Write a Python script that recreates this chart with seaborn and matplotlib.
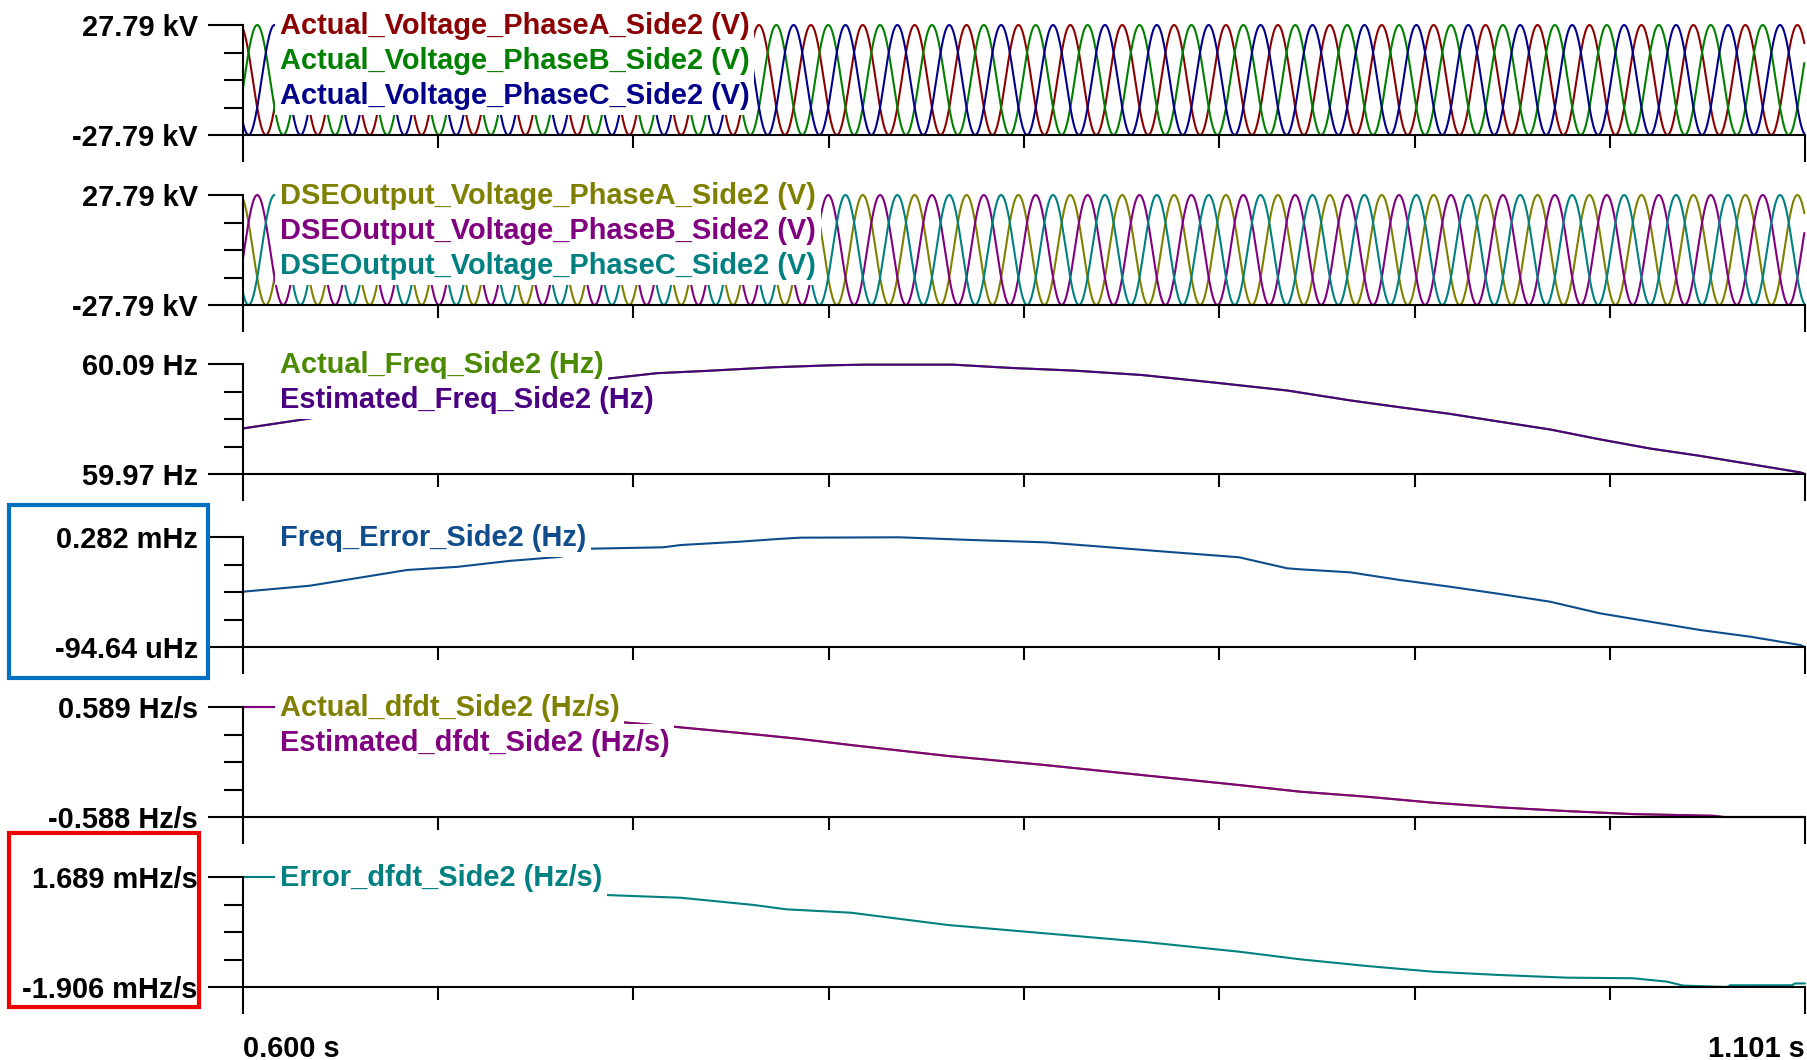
import numpy as np
import matplotlib
matplotlib.use('Agg')
import matplotlib.pyplot as plt
from matplotlib.patches import Rectangle
import seaborn as sns

sns.set_style('white', rc={'axes.edgecolor': 'black', 'xtick.color': 'black',
                           'ytick.color': 'black', 'text.color': 'black'})
plt.rcParams['font.family'] = ['Liberation Sans', 'DejaVu Sans']
plt.rcParams['font.weight'] = 'bold'
plt.rcParams['font.size'] = 20.9

# time window (s)
t_start = 0.600
t_end = 1.101
x_tick_labels = ['0.600 s', '1.101 s']

# voltage panels: peak (kV) and time of first phase-A peak
v_peak_kv = 27.79
actual_peak_t = 0.599
dse_peak_t = 0.599

freq_t = [0.600, 0.6234, 0.650, 0.682, 0.7164, 0.7328, 0.7482, 0.7700, 0.7886,
          0.7995, 0.8277, 0.8463, 0.8665, 0.8883, 0.9114, 0.9349, 0.9551, 0.9711,
          0.9871, 1.0032, 1.0192, 1.0352, 1.0513, 1.0673, 1.0834, 1.0994, 1.101]
freq_hz = [60.0197, 60.0316, 60.0487, 60.0631, 60.0738, 60.0800, 60.0824, 60.0864, 60.0886,
           60.0893, 60.0893, 60.0857, 60.0828, 60.0780, 60.0698, 60.0611, 60.0503, 60.0428,
           60.0356, 60.0270, 60.0186, 60.0078, 59.9978, 59.9898, 59.9808, 59.9718, 59.9700]

# frequency error (mHz)
ferr_t = [0.600, 0.6215, 0.6362, 0.6526, 0.6690, 0.6853, 0.7017, 0.7116, 0.7347, 0.7405,
          0.7594, 0.7716, 0.7787, 0.8104, 0.8338, 0.8572, 0.8726, 0.8960, 0.9195, 0.9349,
          0.9390, 0.9551, 0.9711, 0.9871, 1.0032, 1.0192, 1.0352, 1.0513, 1.0673, 1.0834,
          1.0994, 1.101]
ferr_mhz = [0.0947, 0.1153, 0.1406, 0.1690, 0.1800, 0.2000, 0.2140, 0.2420, 0.2467, 0.2546,
            0.2660, 0.2752, 0.2797, 0.2810, 0.2717, 0.2638, 0.2512, 0.2317, 0.2125, 0.1748,
            0.1714, 0.1610, 0.1348, 0.1118, 0.0868, 0.0605, 0.0207, -0.0080, -0.0364, -0.0593,
            -0.0877, -0.0946]

# df/dt (Hz/s)
dfdt_t = [0.600, 0.6112, 0.620, 0.680, 0.7209, 0.7382, 0.7639, 0.7787, 0.7950, 0.8261,
          0.8572, 0.8883, 0.9195, 0.9390, 0.9605, 0.9817, 1.0032, 1.0247, 1.0458, 1.0715,
          1.075, 1.101]
dfdt_hz_s = [0.589, 0.589, 0.530, 0.470, 0.428, 0.378, 0.297, 0.247, 0.182, 0.065,
             -0.032, -0.139, -0.246, -0.317, -0.371, -0.435, -0.485, -0.525, -0.557, -0.575,
             -0.588, -0.588]

# df/dt error (mHz/s)
edfdt_t = [0.600, 0.6112, 0.6125, 0.700, 0.7145, 0.7161, 0.7405, 0.7639, 0.7742, 0.7950,
           0.8261, 0.8572, 0.8883, 0.9195, 0.9390, 0.9605, 0.9817, 1.0032, 1.0247, 1.0458,
           1.0567, 1.0619, 1.0760, 1.0770, 1.0968, 1.0978, 1.101]
edfdt_mhz_s = [1.689, 1.689, 1.500, 1.350, 1.300, 1.101, 1.010, 0.774, 0.633, 0.522,
               0.120, -0.152, -0.425, -0.752, -1.000, -1.220, -1.406, -1.514, -1.601, -1.620,
               -1.730, -1.860, -1.906, -1.850, -1.850, -1.790, -1.790]

# three-phase voltages built from the frequency track
wave_t = np.arange(t_start, t_end, 1 / 3840)
f_wave = np.interp(wave_t, freq_t, freq_hz)
theta = 2 * np.pi * np.concatenate([[0], np.cumsum((f_wave[1:] + f_wave[:-1]) / 2 * np.diff(wave_t))])


def three_phase(peak_t):
    th = theta + 2 * np.pi * freq_hz[0] * (t_start - peak_t)
    return [v_peak_kv * np.cos(th + s) for s in (0, -2 * np.pi / 3, 2 * np.pi / 3)]


va, vb, vc = three_phase(actual_peak_t)
da, db, dc = three_phase(dse_peak_t)

panels = [
    dict(series=[(wave_t, va, '#8B0000', 'Actual_Voltage_PhaseA_Side2 (V)'),
                 (wave_t, vb, '#008000', 'Actual_Voltage_PhaseB_Side2 (V)'),
                 (wave_t, vc, '#00008B', 'Actual_Voltage_PhaseC_Side2 (V)')],
         ylim=(-27.79, 27.79), yticklabels=['-27.79 kV', '27.79 kV']),
    dict(series=[(wave_t, da, '#808000', 'DSEOutput_Voltage_PhaseA_Side2 (V)'),
                 (wave_t, db, '#800080', 'DSEOutput_Voltage_PhaseB_Side2 (V)'),
                 (wave_t, dc, '#008080', 'DSEOutput_Voltage_PhaseC_Side2 (V)')],
         ylim=(-27.79, 27.79), yticklabels=['-27.79 kV', '27.79 kV']),
    dict(series=[(freq_t, freq_hz, '#4A8A00', 'Actual_Freq_Side2 (Hz)'),
                 (freq_t, freq_hz, '#4B0082', 'Estimated_Freq_Side2 (Hz)')],
         ylim=(59.97, 60.09), yticklabels=['59.97 Hz', '60.09 Hz']),
    dict(series=[(ferr_t, ferr_mhz, '#0F4C8C', 'Freq_Error_Side2 (Hz)')],
         ylim=(-0.09464, 0.282), yticklabels=['-94.64 uHz', '0.282 mHz']),
    dict(series=[(dfdt_t, dfdt_hz_s, '#808000', 'Actual_dfdt_Side2 (Hz/s)'),
                 (dfdt_t, dfdt_hz_s, '#800080', 'Estimated_dfdt_Side2 (Hz/s)')],
         ylim=(-0.588, 0.589), yticklabels=['-0.588 Hz/s', '0.589 Hz/s']),
    dict(series=[(edfdt_t, edfdt_mhz_s, '#008080', 'Error_dfdt_Side2 (Hz/s)')],
         ylim=(-1.906, 1.689), yticklabels=['-1.906 mHz/s', '1.689 mHz/s']),
]

W, H = 1808, 1060
fig = plt.figure(figsize=(W / 100, H / 100), dpi=100)
left_px, right_px = 243, 1805
tops = [25, 195, 364, 537, 707, 877]
ph = 110
row_y = [0.992, 0.672, 0.352]

xt = np.linspace(t_start, t_end, 9)
for i, (top, p) in enumerate(zip(tops, panels)):
    ax = fig.add_axes([left_px / W, 1 - (top + ph) / H, (right_px - left_px) / W, ph / H])
    for t, y, c, lab in p['series']:
        sns.lineplot(x=t, y=y, ax=ax, color=c, linewidth=1.5, estimator=None,
                     sort=False, clip_on=False)
    for k, (t, y, c, lab) in enumerate(p['series']):
        ax.text(0.0237, row_y[k], lab, color=c, transform=ax.transAxes, ha='left',
                va='center', zorder=5, bbox=dict(fc='white', ec='none', pad=3.3))
    lo, hi = p['ylim']
    ax.set_xlim(t_start, t_end)
    ax.set_ylim(lo, hi)
    ax.set_yticks([lo, hi])
    ax.set_yticklabels(p['yticklabels'])
    ax.set_yticks(np.linspace(lo, hi, 5)[1:-1], minor=True)
    ax.set_xticks([t_start, t_end])
    ax.set_xticks(xt[1:-1], minor=True)
    ax.set_xlabel('')
    ax.set_ylabel('')
    for s in ['top', 'right']:
        ax.spines[s].set_visible(False)
    for s in ['left', 'bottom']:
        ax.spines[s].set_linewidth(1.5)
        ax.spines[s].set_color('black')
    ax.tick_params(which='both', left=True, bottom=True, width=1.5, color='black')
    ax.tick_params(axis='y', which='major', length=25, pad=7.5)
    ax.tick_params(axis='y', which='minor', length=13.7)
    ax.tick_params(axis='x', which='major', length=19.4, pad=15)
    ax.tick_params(axis='x', which='minor', length=9.4)
    if i == len(panels) - 1:
        ax.set_xticklabels(x_tick_labels)
        labs = ax.get_xticklabels()
        labs[0].set_ha('left')
        labs[1].set_ha('right')
    else:
        ax.tick_params(axis='x', labelbottom=False)

fig.add_artist(Rectangle((9 / W, 1 - 678 / H), 199 / W, 173 / H, transform=fig.transFigure,
                         fill=False, ec='#0070C0', lw=3))
fig.add_artist(Rectangle((9 / W, 1 - 1007 / H), 190 / W, 174 / H, transform=fig.transFigure,
                         fill=False, ec='#F00000', lw=3))

fig.savefig('out.png', dpi=100)
plt.close()
